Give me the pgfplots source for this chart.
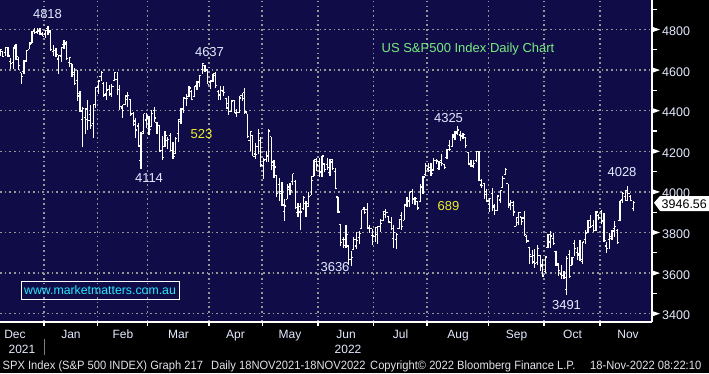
\documentclass[border=0pt]{standalone}
\usepackage{pgfplots}
\pgfplotsset{compat=1.18}
\usepackage{pgfplotstable}
\usepackage{fontspec}
\setmainfont{Liberation Sans}
\definecolor{bgnavy}{RGB}{15,12,72}
\definecolor{gridgray}{RGB}{150,150,150}
\definecolor{lbl}{RGB}{228,234,255}
\definecolor{ttlgreen}{RGB}{120,235,130}
\definecolor{mmcyan}{RGB}{40,230,255}
\definecolor{yel}{RGB}{240,240,40}
\definecolor{foot}{RGB}{225,225,235}

\pgfdeclareplotmark{otick}{\pgfpathmoveto{\pgfqpoint{-\pgfplotmarksize}{0pt}}\pgfpathlineto{\pgfqpoint{0pt}{0pt}}\pgfusepathqstroke}
\pgfdeclareplotmark{ctick}{\pgfpathmoveto{\pgfqpoint{0pt}{0pt}}\pgfpathlineto{\pgfqpoint{\pgfplotmarksize}{0pt}}\pgfusepathqstroke}

% x = trading-day index (0 = 1 Dec 2021); o h l c
\pgfplotstableread{
x o h l c
5 4690 4705 4671 4701
6 4691 4695 4665 4667
7 4687 4713 4670 4712
8 4711 4712 4667 4669
9 4642 4660 4606 4634
10 4637 4710 4607 4709
11 4719 4731 4651 4668
12 4653 4666 4600 4621
13 4588 4588 4531 4568
14 4594 4651 4583 4649
15 4645 4697 4644 4697
16 4703 4740 4703 4726
17 4733 4791 4733 4791
18 4795 4807 4780 4786
19 4788 4805 4778 4793
20 4794 4808 4775 4778
21 4775 4787 4766 4766
22 4778 4797 4758 4797
23 4804 4819 4774 4794
24 4788 4798 4699 4701
25 4693 4725 4671 4696
26 4697 4707 4663 4677
27 4655 4673 4582 4670
28 4669 4714 4638 4713
29 4728 4749 4702 4726
30 4733 4744 4651 4659
31 4637 4666 4614 4663
32 4632 4632 4568 4577
33 4588 4612 4531 4533
34 4547 4602 4450 4483
35 4472 4495 4395 4398
36 4357 4417 4223 4410
37 4366 4411 4287 4357
38 4408 4453 4304 4350
39 4380 4428 4309 4326
40 4337 4432 4264 4432
41 4431 4516 4415 4516
42 4519 4550 4484 4546
43 4567 4595 4544 4589
44 4535 4542 4465 4477
45 4482 4540 4451 4501
46 4505 4527 4471 4484
47 4480 4531 4465 4521
48 4547 4590 4547 4587
49 4553 4589 4477 4504
50 4506 4527 4402 4419
51 4413 4427 4365 4401
52 4429 4472 4429 4472
53 4455 4490 4420 4475
54 4456 4456 4374 4380
55 4385 4394 4327 4349
56 4332 4363 4267 4305
57 4325 4340 4221 4226
58 4155 4295 4115 4288
59 4299 4385 4287 4385
60 4354 4388 4315 4374
61 4364 4375 4279 4306
62 4323 4401 4322 4387
63 4401 4417 4345 4364
64 4342 4343 4284 4329
65 4327 4327 4199 4201
66 4202 4277 4157 4171
67 4223 4299 4223 4278
68 4253 4268 4210 4260
69 4279 4292 4200 4204
70 4202 4247 4162 4173
71 4188 4272 4187 4262
72 4289 4357 4246 4357
73 4345 4412 4335 4412
74 4407 4465 4390 4463
75 4462 4481 4424 4461
76 4469 4522 4469 4512
77 4494 4501 4455 4456
78 4469 4520 4465 4520
79 4523 4546 4501 4543
80 4541 4575 4517 4575
81 4603 4637 4582 4632
82 4624 4627 4589 4602
83 4599 4603 4530 4530
84 4541 4547 4507 4546
85 4547 4583 4539 4583
86 4573 4593 4514 4525
87 4495 4503 4451 4481
88 4474 4521 4451 4500
89 4494 4520 4474 4488
90 4462 4464 4408 4413
91 4437 4471 4381 4397
92 4396 4453 4392 4447
93 4449 4452 4392 4392
94 4385 4410 4370 4391
95 4390 4471 4390 4463
96 4473 4488 4448 4459
97 4489 4512 4384 4394
98 4385 4386 4267 4272
99 4255 4299 4200 4296
100 4278 4278 4175 4175
101 4187 4240 4163 4183
102 4222 4308 4188 4288
103 4253 4269 4124 4132
104 4130 4169 4062 4155
105 4159 4200 4148 4175
106 4181 4308 4149 4300
107 4271 4271 4106 4147
108 4129 4157 4067 4123
109 4081 4082 3976 3991
110 4035 4069 3954 4001
111 3991 4050 3929 3935
112 3904 3965 3859 3930
113 3963 4039 3963 4024
114 4013 4046 3984 4008
115 4052 4089 4034 4089
116 4052 4058 3917 3923
117 3899 3946 3877 3901
118 3927 3943 3810 3901
119 3920 3981 3909 3974
120 3943 3955 3875 3941
121 3929 3999 3925 3979
122 3984 4076 3984 4058
123 4077 4158 4077 4158
124 4151 4168 4104 4132
125 4150 4167 4074 4101
126 4096 4177 4074 4177
127 4137 4143 4097 4109
128 4135 4169 4109 4121
129 4097 4164 4080 4161
130 4147 4160 4107 4116
131 4102 4119 4017 4018
132 3975 3975 3900 3901
133 3838 3838 3735 3750
134 3764 3778 3723 3735
135 3765 3838 3723 3790
136 3733 3733 3640 3667
137 3665 3708 3637 3675
138 3715 3779 3715 3765
139 3733 3801 3717 3760
140 3775 3808 3743 3796
141 3821 3913 3821 3912
142 3921 3928 3889 3900
143 3913 3946 3820 3821
144 3826 3836 3799 3819
145 3785 3818 3739 3785
146 3781 3829 3752 3825
147 3792 3832 3742 3831
148 3831 3865 3800 3845
149 3859 3906 3859 3902
150 3888 3918 3869 3899
151 3880 3880 3847 3854
152 3851 3874 3812 3819
153 3772 3839 3722 3801
154 3764 3796 3721 3790
155 3820 3863 3817 3863
156 3883 3903 3813 3831
157 3860 3939 3860 3937
158 3935 3975 3924 3959
159 3955 3999 3927 3999
160 4000 4013 3939 3962
161 3966 3976 3936 3967
162 3953 3954 3911 3921
163 3951 4040 3951 4024
164 4026 4078 3992 4073
165 4087 4141 4080 4130
166 4113 4144 4096 4119
167 4105 4140 4079 4091
168 4108 4167 4108 4155
169 4154 4161 4136 4152
170 4116 4151 4107 4145
171 4156 4187 4128 4140
172 4133 4138 4112 4122
173 4171 4211 4160 4210
174 4227 4257 4201 4207
175 4225 4280 4219 4280
176 4270 4301 4256 4297
177 4290 4325 4278 4305
178 4280 4302 4253 4275
179 4273 4292 4261 4284
180 4266 4266 4218 4228
181 4195 4196 4130 4138
182 4133 4159 4124 4128
183 4126 4156 4120 4141
184 4154 4200 4147 4200
185 4198 4203 4057 4058
186 4034 4063 4018 4031
187 4041 4044 3965 3986
188 4000 4016 3954 3955
189 3936 3970 3903 3967
190 3994 4019 3906 3924
191 3930 3942 3886 3909
192 3909 3987 3906 3980
193 3960 4010 3945 4006
194 4022 4077 4022 4067
195 4084 4120 4084 4110
196 4041 4041 3921 3932
197 3940 3961 3912 3946
198 3933 3957 3880 3901
199 3831 3870 3830 3873
200 3849 3900 3839 3900
201 3876 3877 3837 3856
202 3871 3907 3789 3790
203 3782 3790 3749 3758
204 3727 3727 3647 3693
205 3682 3716 3644 3655
206 3687 3717 3623 3648
207 3651 3737 3640 3720
208 3687 3687 3610 3640
209 3633 3671 3584 3586
210 3609 3680 3599 3679
211 3726 3791 3726 3791
212 3753 3807 3723 3783
213 3771 3797 3739 3745
214 3706 3709 3635 3640
215 3647 3652 3588 3612
216 3595 3641 3569 3589
217 3590 3609 3572 3577
218 3520 3685 3491 3670
219 3690 3713 3582 3583
220 3638 3680 3638 3677
221 3746 3762 3686 3720
222 3703 3728 3666 3695
223 3689 3762 3664 3666
224 3657 3753 3647 3753
225 3764 3810 3741 3797
226 3799 3862 3799 3859
227 3825 3887 3824 3830
228 3834 3860 3803 3808
229 3808 3905 3808 3901
230 3882 3893 3863 3872
231 3902 3911 3844 3857
232 3853 3894 3759 3760
233 3733 3751 3698 3720
234 3767 3796 3721 3771
235 3780 3813 3764 3807
236 3818 3859 3779 3828
237 3810 3818 3744 3749
238 3859 3957 3859 3956
239 3963 4001 3944 3993
240 3978 4008 3957 3957
241 4006 4028 3954 3992
242 3976 3984 3955 3959
243 3919 3954 3907 3947
}\spx

\begin{document}
\begin{tikzpicture}[x=1pt,y=1pt]
\useasboundingbox (0,0) rectangle (709,373);
\fill[black] (0,0) rectangle (709,373);
\begin{axis}[
  at={(0pt,51pt)}, anchor=south west,
  scale only axis, width=652pt, height=322pt,
  xmin=4.96, xmax=250.07, ymin=3359, ymax=4945.3,
  axis background/.style={fill=bgnavy},
  axis x line*=bottom, axis y line*=right,
  axis line style={white, line width=1.3pt, -},
  xtick={21.5,41.5,60.5,83.5,103.5,124.5,145.5,165.5,188.5,209.5,230.5},
  xticklabels={},
  ytick={3400,3600,3800,4000,4200,4400,4600,4800},
  minor ytick={3500,3700,3900,4100,4300,4500,4700,4900},
  yticklabels={},
  tick align=outside,
  major tick length=4pt, minor tick length=5pt,
  tick style={white, line width=1.2pt},
  grid=major,
  major grid style={gridgray, line width=1.3pt, dash pattern=on 1.6pt off 3.1pt},
  clip marker paths=true,
]
\addplot[only marks, mark=ctick, mark size=1.7pt, white, line width=1.2pt,
  error bars/.cd, y dir=both, y explicit, error mark=none,
  error bar style={white, line width=1.2pt}]
  table[x=x, y=c, y error plus expr=\thisrow{h}-\thisrow{c}, y error minus expr=\thisrow{c}-\thisrow{l}] {\spx};
\addplot[only marks, mark=otick, mark size=1.7pt, white, line width=1.2pt]
  table[x=x, y=o] {\spx};
\end{axis}

% right axis labels
\foreach \v/\yy in {3400/59.3,3600/99.9,3800/140.5,4000/181.1,4200/221.7,4400/262.3,4600/302.9,4800/343.5}{
  \fill[white] (652.5,\yy+2.6) -- (660,\yy) -- (652.5,\yy-2.6) -- cycle;
  \node[anchor=west, inner sep=0pt, text=lbl, font=\fontsize{12.5}{14}\selectfont] at (662,\yy-1.6) {\v};
}
% last price box
\fill[white] (654,170.3) -- (660,177) -- (709,177) -- (709,162) -- (660,162) -- cycle;
\node[anchor=west, inner sep=0pt, text=black, font=\fontsize{12.5}{14}\selectfont] at (661.5,169) {3946.56};

% month labels
\foreach \m/\xx in {Dec/15,Jan/71,Feb/123,Mar/178.5,Apr/235.5,May/290,Jun/346,Jul/400.5,Aug/458,Sep/516.5,Oct/572.5,Nov/628}{
  \node[anchor=base, inner sep=0pt, text=lbl, font=\fontsize{12}{14}\selectfont] at (\xx,35) {\m};
}
\node[anchor=base, inner sep=0pt, text=lbl, font=\fontsize{12}{14}\selectfont] at (22,20) {2021};
\node[anchor=base, inner sep=0pt, text=lbl, font=\fontsize{12}{14}\selectfont] at (348,20) {2022};
\draw[gray, line width=1pt] (44,18) -- (44,34);

% footer
\begin{scope}[every node/.style={anchor=base west, inner sep=0pt, text=foot, font=\fontsize{12}{14}\selectfont}]
\node at (2.5,4) {\scalebox{0.93}[1]{SPX Index (S\&P 500 INDEX) Graph 217}};
\node at (211,4) {\scalebox{0.93}[1]{Daily 18NOV2021-18NOV2022}};
\node at (370,4) {\scalebox{0.93}[1]{Copyright© 2022 Bloomberg Finance L.P.}};
\node at (590,4) {\scalebox{0.93}[1]{18-Nov-2022 08:22:10}};
\end{scope}

% annotations
\begin{scope}[every node/.style={inner sep=0pt, text=lbl, font=\fontsize{13}{15}\selectfont}]
\node at (47.5,359) {4818};
\node at (209.5,321) {4637};
\node at (149,195) {4114};
\node at (448.5,255) {4325};
\node at (335,106) {3636};
\node at (566.5,68) {3491};
\node at (622,201) {4028};
\node[text=yel] at (201.5,239) {523};
\node[text=yel] at (448.5,167) {689};
\node[text=ttlgreen] at (468,324) {US S\&P500 Index Daily Chart};
\end{scope}
\draw[white, line width=1pt] (21,74) rectangle (179,92);
\node[inner sep=0pt, text=mmcyan, font=\fontsize{12.3}{14}\selectfont] at (100,83) {www.marketmatters.com.au};
\end{tikzpicture}
\end{document}
